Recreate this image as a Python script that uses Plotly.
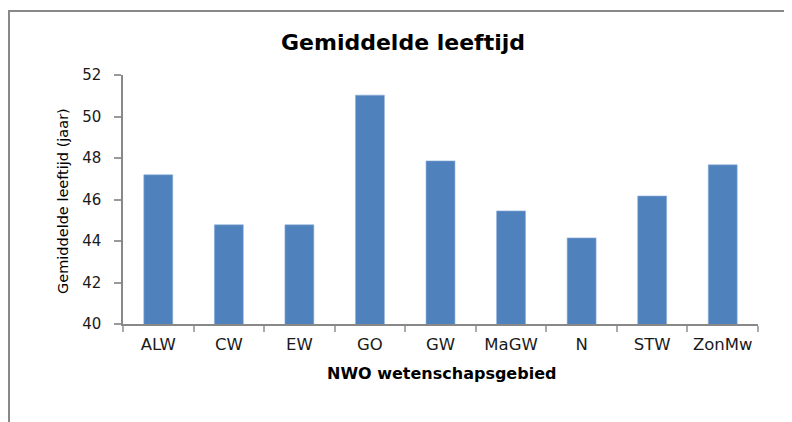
import plotly.graph_objects as go

categories = ["ALW", "CW", "EW", "GO", "GW", "MaGW", "N", "STW", "ZonMw"]
values = [47.19, 44.78, 44.78, 51.03, 47.86, 45.45, 44.15, 46.17, 47.67]
y_ticks = [40, 42, 44, 46, 48, 50, 52]

# page has an 8px body margin, so the figure is sized to fit the 792x422 window
W, H = 784, 414
L, R, T, B = 115, 34, 67, 98
pw, ph = W - L - R, H - T - B

def px(x):
    return (x - L) / pw

def py(y):
    return (H - B - y) / ph

FONT = "'DejaVu Sans', sans-serif"

fig = go.Figure(go.Bar(
    x=categories, y=values,
    marker=dict(color="#4F81BD", line=dict(color="#8FB0DA", width=0.6)),
    width=0.41,
))

fig.update_layout(
    width=W, height=H,
    margin=dict(l=L, r=R, t=T, b=B),
    paper_bgcolor="white", plot_bgcolor="white",
    font=dict(family=FONT, color="#222222"),
    showlegend=False,
    title=dict(text="<b>Gemiddelde leeftijd</b>", x=395 / W, xanchor="center",
               y=1 - 34 / H, yanchor="middle", font=dict(size=22, color="#000000")),
    xaxis=dict(
        type="category", showline=True, linecolor="#888888", linewidth=1.5,
        ticks="outside", ticklen=6, tickcolor="#AAAAAA", tickwidth=1.5, tickson="boundaries",
        tickangle=0, ticklabelstandoff=4,
        tickfont=dict(size=16.5, color="#1a1a1a"),
        showgrid=False, range=[-0.5, 8.5], fixedrange=True,
    ),
    yaxis=dict(
        range=[40, 52], tickvals=y_ticks, showline=True, linecolor="#888888", linewidth=1.5,
        ticks="outside", ticklen=7, tickcolor="#999999", tickwidth=1.5,
        ticklabelstandoff=10,
        tickfont=dict(size=15, color="#1a1a1a"), showgrid=False, zeroline=False,
    ),
    annotations=[
        dict(text="<b>NWO wetenschapsgebied</b>", xref="paper", yref="paper",
             x=px(433), y=py(365), xanchor="center", yanchor="middle", showarrow=False,
             font=dict(size=16, color="#000000")),
        dict(text="Gemiddelde leeftijd (jaar)", xref="paper", yref="paper",
             x=px(55), y=py(193), xanchor="center", yanchor="middle", showarrow=False,
             textangle=-90, font=dict(size=14.5, color="#000000")),
    ],
    shapes=[dict(type="rect", xref="paper", yref="paper",
                 x0=px(1), x1=px(W + 20), y0=py(H + 20), y1=py(3),
                 line=dict(color="#888888", width=2), fillcolor="rgba(0,0,0,0)", layer="below")],
)

fig.write_html("out.html")
